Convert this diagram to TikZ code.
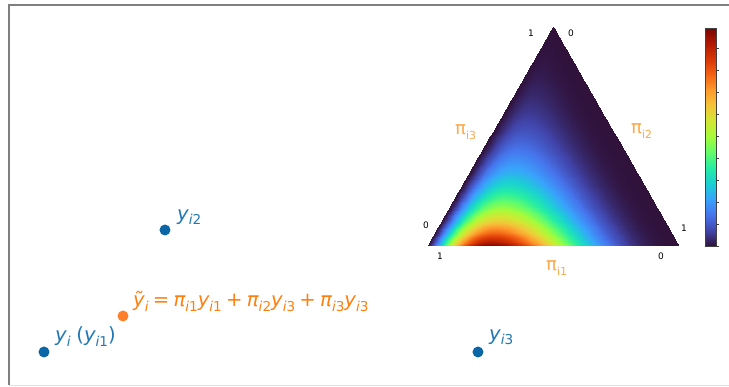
\documentclass[tikz,border=0pt]{standalone}
\usepackage{fontspec}
\setmainfont{DejaVu Sans}
\usepackage{pgfplots}
\pgfplotsset{compat=1.18}
\definecolor{dotblue}{HTML}{0B66A8}
\definecolor{txtblue}{HTML}{1F77B4}
\definecolor{dotorange}{HTML}{FF7F2A}
\definecolor{txtorange}{HTML}{FF7F0E}
\definecolor{lblorange}{HTML}{FBA94C}
\definecolor{framegray}{HTML}{7F7F7F}
\newcommand\msub[1]{\raisebox{-0.22em}{\fontsize{13.6}{14}\selectfont #1}}
\newcommand\tsub[1]{\raisebox{-5pt}{\fontsize{11}{12}\selectfont #1}}
\newcommand\mi[1]{{\itshape #1}}
\newcommand\msp{\hspace{0.22em}}
\tikzset{
  dotbase/.style={circle, inner sep=0pt, minimum size=11pt},
  bluedot/.style={dotbase, fill=dotblue},
  orangedot/.style={dotbase, fill=dotorange},
  bluelab/.style={text=txtblue, font=\fontsize{19.6}{20}\selectfont, inner sep=0pt, anchor=base west},
  eqlab/.style={text=txtorange, font=\fontsize{19.6}{20}\selectfont, inner sep=0pt, anchor=base west},
  pilab/.style={text=lblorange, font=\fontsize{18}{19}\selectfont, inner sep=0pt, anchor=base west},
  ticklab/.style={font=\fontsize{9}{10}\selectfont, inner sep=0pt},
}
\begin{document}
\begin{tikzpicture}[x=1pt,y=1pt]
\begin{axis}[at={(0,0)}, anchor=origin, view={0}{90}, hide axis, scale only axis,
  width=729pt, height=387pt, xmin=0, xmax=729, ymin=0, ymax=387, zmin=0, zmax=1,
  clip=false, point meta min=0, point meta max=1,
  colormap={turbo}{rgb255=(48,18,59) rgb255=(65,69,171) rgb255=(70,117,237)
    rgb255=(57,162,252) rgb255=(27,207,212) rgb255=(36,236,166) rgb255=(97,252,108)
    rgb255=(164,252,59) rgb255=(209,232,52) rgb255=(243,198,58) rgb255=(254,155,45)
    rgb255=(243,99,21) rgb255=(217,56,6) rgb255=(177,25,1) rgb255=(122,4,3)}]
\addplot3[surf, shader=interp, domain=0:1, y domain=0:1, samples=61, samples y=51, point meta=z]
  ({427+252*x*(1-y)+126*y},{141+219*y},
   {min(1,ifthenelse(x<0.25,(max(0.000001,x)/0.25)^1.4*((1-x)/0.75)^4.2,4*x*((1-x)/0.75)^3)*(max(0.000001,1-y))^(4-1.5*y))});
\addplot3[surf, shader=interp, domain=0:1, y domain=0:1, samples=2, samples y=40, point meta=z]
  ({705+11*x},{141+218*y},{y});
\coordinate (O) at (axis cs:0,0,0);
\coordinate (E) at (axis cs:729,387,0);
\end{axis}
\pgfresetboundingbox
\useasboundingbox (O) rectangle (E);
\begin{scope}[x=1pt, y=-1pt, yshift=387pt]
  % frame
  \coordinate (f1) at (9,385);
  \coordinate (f2) at (9,5);
  \coordinate (f3) at (729,5);
  \coordinate (f4) at (729,385.5);
  \coordinate (f5) at (9,385.5);
  \draw[framegray, line width=1.3pt] (f1) -- (f2) -- (f3);
  \draw[black!12, line width=1pt] (f5) -- (f4);
  % colorbar border and ticks
  \coordinate (cb1) at (705,28);
  \coordinate (cb2) at (716,246);
  \draw[black!75, line width=0.5pt] (cb1) rectangle (cb2);
  \foreach \t in {0,...,9} {
    \coordinate (tk\t a) at (716,246-22*\t);
    \coordinate (tk\t b) at (719,246-22*\t);
    \draw[black!75, line width=0.5pt] (tk\t a) -- (tk\t b);
  }
  % ternary tick labels
  \node[ticklab] (t1) at (531,33) {1};
  \node[ticklab] (t2) at (571,33) {0};
  \node[ticklab] (t3) at (426,225) {0};
  \node[ticklab] (t4) at (684,228) {1};
  \node[ticklab] (t5) at (440,256) {1};
  \node[ticklab] (t6) at (661,256) {0};
  % ternary axis labels
  \node[pilab] (p3) at (455,135) {π\tsub{i3}};
  \node[pilab] (p2) at (631,134) {π\tsub{i2}};
  \node[pilab] (p1) at (546,271) {π\tsub{i1}};
  % points
  \node[bluedot] (d1) at (44,352) {};
  \node[bluedot] (d2) at (165,230) {};
  \node[bluedot] (d3) at (478,352) {};
  \node[orangedot] (d4) at (123,316) {};
  % labels
  \node[bluelab] (l1) at (55,342) {\mi{y}\msub{\mi{i}}\hspace{0.3em}(\mi{y}\msub{\mi{i}1})};
  \node[bluelab] (l2) at (177,220.5) {\mi{y}\msub{\mi{i}2}};
  \node[bluelab] (l3) at (489,340.5) {\mi{y}\msub{\mi{i}3}};
  \node[eqlab] (eq) at (133,307) {\mi{ỹ}\msub{\mi{i}}\msp=\msp\mi{π}\msub{\mi{i}1}\mi{y}\msub{\mi{i}1}\msp+\msp\mi{π}\msub{\mi{i}2}\mi{y}\msub{\mi{i}3}\msp+\msp\mi{π}\msub{\mi{i}3}\mi{y}\msub{\mi{i}3}};
\end{scope}
\end{tikzpicture}
\end{document}
